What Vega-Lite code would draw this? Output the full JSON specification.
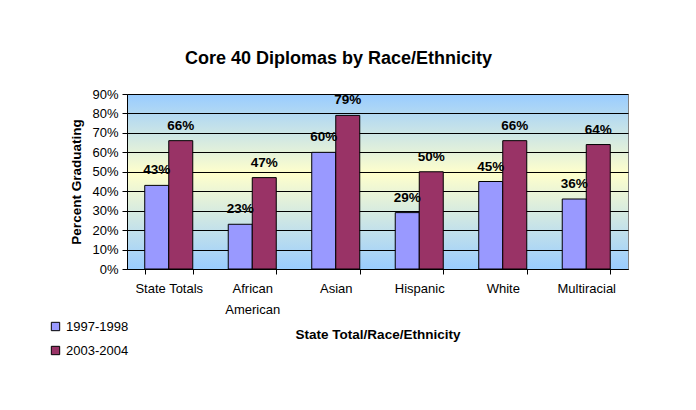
{
  "$schema": "https://vega.github.io/schema/vega-lite/v6.json",
  "width": 501,
  "height": 175,
  "autosize": "none",
  "padding": {"left": 127, "top": 94, "right": 68, "bottom": 141},
  "background": "white",
  "title": {
    "text": "Core 40 Diplomas by Race/Ethnicity",
    "font": "Liberation Sans",
    "fontSize": 18,
    "fontWeight": "bold",
    "color": "black",
    "anchor": "middle",
    "frame": "bounds",
    "offset": 20
  },
  "data": {
    "values": [
      {"group": "State Totals", "year": "1997-1998", "value": 0.43},
      {"group": "State Totals", "year": "2003-2004", "value": 0.66},
      {"group": "African American", "year": "1997-1998", "value": 0.23},
      {"group": "African American", "year": "2003-2004", "value": 0.47},
      {"group": "Asian", "year": "1997-1998", "value": 0.60},
      {"group": "Asian", "year": "2003-2004", "value": 0.79},
      {"group": "Hispanic", "year": "1997-1998", "value": 0.29},
      {"group": "Hispanic", "year": "2003-2004", "value": 0.50},
      {"group": "White", "year": "1997-1998", "value": 0.45},
      {"group": "White", "year": "2003-2004", "value": 0.66},
      {"group": "Multiracial", "year": "1997-1998", "value": 0.36},
      {"group": "Multiracial", "year": "2003-2004", "value": 0.64}
    ]
  },
  "view": {
    "fill": {
      "gradient": "linear",
      "x1": 0, "y1": 0, "x2": 0, "y2": 1,
      "stops": [
        {"offset": 0, "color": "#99CCFF"},
        {"offset": 0.45, "color": "#FFFFCC"},
        {"offset": 1, "color": "#99CCFF"}
      ]
    },
    "stroke": "#808080",
    "strokeWidth": 1
  },
  "encoding": {
    "x": {
      "field": "group",
      "type": "nominal",
      "sort": null,
      "scale": {"paddingInner": 0.425, "paddingOuter": 0.2125},
      "axis": {
        "title": "State Total/Race/Ethnicity",
        "labelAngle": 0,
        "tickBand": "extent",
        "labelPadding": 8,
        "labelLineHeight": 21,
        "labelExpr": "datum.label == 'African American' ? ['African', 'American'] : datum.label",
        "titlePadding": 11
      }
    },
    "xOffset": {"field": "year", "type": "nominal", "scale": {"paddingInner": 0, "paddingOuter": 0}},
    "y": {
      "field": "value",
      "type": "quantitative",
      "scale": {"domain": [0, 0.9], "nice": false},
      "axis": {
        "title": "Percent Graduating",
        "values": [0, 0.1, 0.2, 0.3, 0.4, 0.5, 0.6, 0.7, 0.8, 0.9],
        "format": ".0%",
        "grid": true,
        "titlePadding": 8
      }
    }
  },
  "layer": [
    {
      "mark": {"type": "bar", "stroke": "black", "strokeWidth": 1},
      "encoding": {
        "color": {
          "field": "year",
          "type": "nominal",
          "scale": {"domain": ["1997-1998", "2003-2004"], "range": ["#9999FF", "#993366"]},
          "legend": {
            "title": null,
            "orient": "none",
            "legendX": -78,
            "legendY": 226,
            "symbolType": "square",
            "symbolSize": 70,
            "symbolStrokeColor": "black",
            "symbolStrokeWidth": 1,
            "labelFont": "Liberation Sans",
            "labelFontSize": 13,
            "labelColor": "black",
            "labelOffset": 4,
            "rowPadding": 10
          }
        }
      }
    },
    {
      "mark": {
        "type": "text",
        "font": "Liberation Sans",
        "fontSize": 13.5,
        "fontWeight": "bold",
        "color": "black",
        "baseline": "alphabetic",
        "dy": -11
      },
      "encoding": {
        "text": {"field": "value", "type": "quantitative", "format": ".0%"}
      }
    }
  ],
  "config": {
    "font": "Liberation Sans",
    "axis": {
      "labelFont": "Liberation Sans",
      "labelFontSize": 13,
      "labelColor": "black",
      "titleFont": "Liberation Sans",
      "titleFontSize": 13.5,
      "titleFontWeight": "bold",
      "titleColor": "black",
      "domainColor": "black",
      "domainWidth": 1,
      "tickColor": "black",
      "tickSize": 5,
      "gridColor": "black",
      "gridWidth": 1,
      "gridOpacity": 1,
      "labelPadding": 4
    },
    "axisX": {"grid": false}
  }
}
